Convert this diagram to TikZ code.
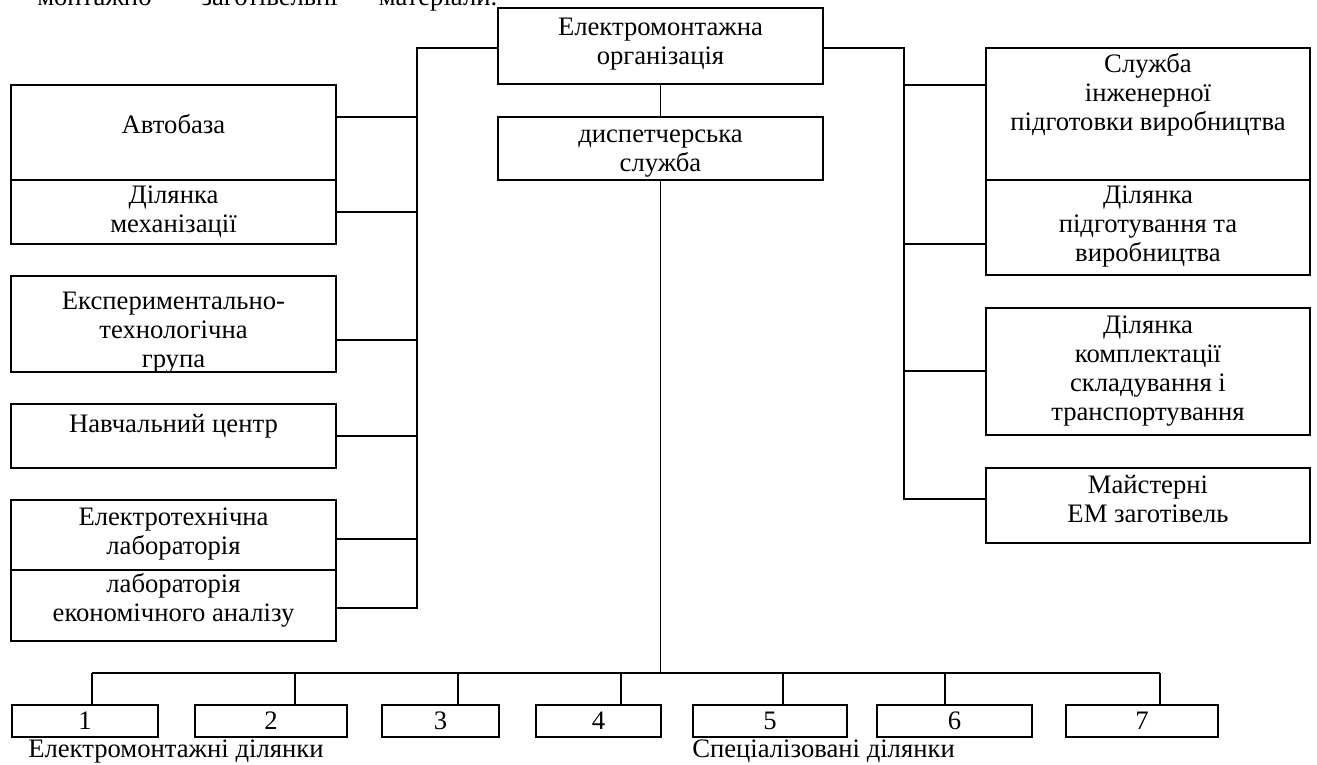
\documentclass[tikz,border=0pt]{standalone}
\usepackage{fontspec}
\setmainfont{Liberation Serif}
\usetikzlibrary{fit}
\newcommand{\fs}{\fontsize{20}{21.8}\selectfont}
\newcommand{\mkbox}[5]{%
  \path (#2,#3) coordinate (#1-nw) (#4,#5) coordinate (#1-se);
  \node[boxst, fit=(#1-nw)(#1-se)] (#1) {};}
\begin{document}
\begin{tikzpicture}[x=0.75pt,y=-0.75pt,
  boxst/.style={draw, line width=1.2pt, inner sep=0pt},
  conn/.style={draw, line width=1.2pt},
  txt/.style={font=\fs, align=center, inner sep=0pt, anchor=north},
  num/.style={font=\fs, inner sep=0pt, anchor=base}]
\useasboundingbox (0,0) rectangle (1317,764);
% clipped header line
\begin{scope}
\clip (0,0) rectangle (1317,764);
\node[font=\fs, inner sep=0pt, anchor=base west] (head) at (37,5) {\hbox to 345pt{монтажно-\hfil заготівельні\hfil матеріали.}};
\end{scope}
% boxes
\mkbox{org}{498}{8}{823}{84}
\mkbox{disp}{498}{117}{823}{180}
\mkbox{auto}{11}{85}{336}{180}
\mkbox{mech}{11}{180}{336}{244}
\mkbox{exper}{11}{276}{336}{372}
\mkbox{navch}{11}{404}{336}{468}
\mkbox{elab}{11}{500}{336}{570}
\mkbox{econ}{11}{570}{336}{641}
\mkbox{sluzh}{986}{48}{1310}{180}
\mkbox{pidg}{986}{180}{1310}{275}
\mkbox{kompl}{986}{308}{1310}{435}
\mkbox{maist}{986}{468}{1310}{543}
\mkbox{u1}{12}{705}{158}{737}
\mkbox{u2}{195}{705}{347}{737}
\mkbox{u3}{382}{705}{499}{737}
\mkbox{u4}{536}{705}{661}{737}
\mkbox{u5}{693}{705}{847}{737}
\mkbox{u6}{877}{705}{1032}{737}
\mkbox{u7}{1066}{705}{1218}{737}
% texts
\node[txt] (torg) at (660.5,15) {\strut Електромонтажна\\організація};
\node[txt] (tdisp) at (660.5,122) {\strut диспетчерська\\служба};
\node[txt] (tauto) at (173.5,113) {\strut Автобаза};
\node[txt] (tmech) at (173.5,183) {\strut Ділянка\\механізації};
\node[txt] (texper) at (173.5,289) {\strut Експериментально-\\технологічна\\група};
\node[txt] (tnavch) at (173.5,412) {\strut Навчальний центр};
\node[txt] (telab) at (173.5,505) {\strut Електротехнічна\\лабораторія};
\node[txt] (tecon) at (173.5,572) {\strut лабораторія\\економічного аналізу};
\node[txt] (tsluzh) at (1148,52) {\strut Служба\\інженерної\\підготовки виробництва};
\node[txt] (tpidg) at (1148,183) {\strut Ділянка\\підготування та\\виробництва};
\node[txt] (tkompl) at (1148,313) {\strut Ділянка\\комплектації\\складування і\\транспортування};
\node[txt] (tmaist) at (1148,473) {\strut Майстерні\\ЕМ заготівель};
\foreach \i in {1,...,7} {\node[num] (n\i) at (u\i.center |- 0,729) {\i};}
\node[font=\fs, inner sep=0pt, anchor=base west] (lab1) at (28,757) {Електромонтажні ділянки};
\node[font=\fs, inner sep=0pt, anchor=base west] (lab2) at (692,757) {Спеціалізовані ділянки};
% left bus
\coordinate (lt) at (417,48);
\coordinate (lb1) at (417,117);
\coordinate (lb2) at (417,212);
\coordinate (lb3) at (417,340);
\coordinate (lb4) at (417,436);
\coordinate (lb5) at (417,539);
\coordinate (lb6) at (417,608);
\draw[conn] (org.west |- lt) -- (lt) -- (lb6) -- (lb6 -| econ.east);
\draw[conn] (lb1) -- (lb1 -| auto.east);
\draw[conn] (lb2) -- (lb2 -| mech.east);
\draw[conn] (lb3) -- (lb3 -| exper.east);
\draw[conn] (lb4) -- (lb4 -| navch.east);
\draw[conn] (lb5) -- (lb5 -| elab.east);
% right bus
\coordinate (rt) at (904,48);
\coordinate (rb1) at (904,85);
\coordinate (rb2) at (904,244);
\coordinate (rb3) at (904,371);
\coordinate (rb4) at (904,499);
\draw[conn] (org.east |- rt) -- (rt) -- (rb4) -- (rb4 -| maist.west);
\draw[conn] (rb1) -- (rb1 -| sluzh.west);
\draw[conn] (rb2) -- (rb2 -| pidg.west);
\draw[conn] (rb3) -- (rb3 -| kompl.west);
% center
\draw[conn] (org.south) -- (disp.north);
\coordinate (bm) at (disp.south |- 0,673);
\draw[conn] (disp.south) -- (bm);
\coordinate (c1) at (92,673);
\coordinate (c2) at (295,673);
\coordinate (c3) at (458,673);
\coordinate (c4) at (621,673);
\coordinate (c5) at (783,673);
\coordinate (c6) at (945,673);
\coordinate (c7) at (1160,673);
\draw[conn] (c1) -- (c7);
\foreach \i in {1,...,7} {\draw[conn] (c\i) -- (c\i |- u\i.north);}
\end{tikzpicture}
\end{document}
